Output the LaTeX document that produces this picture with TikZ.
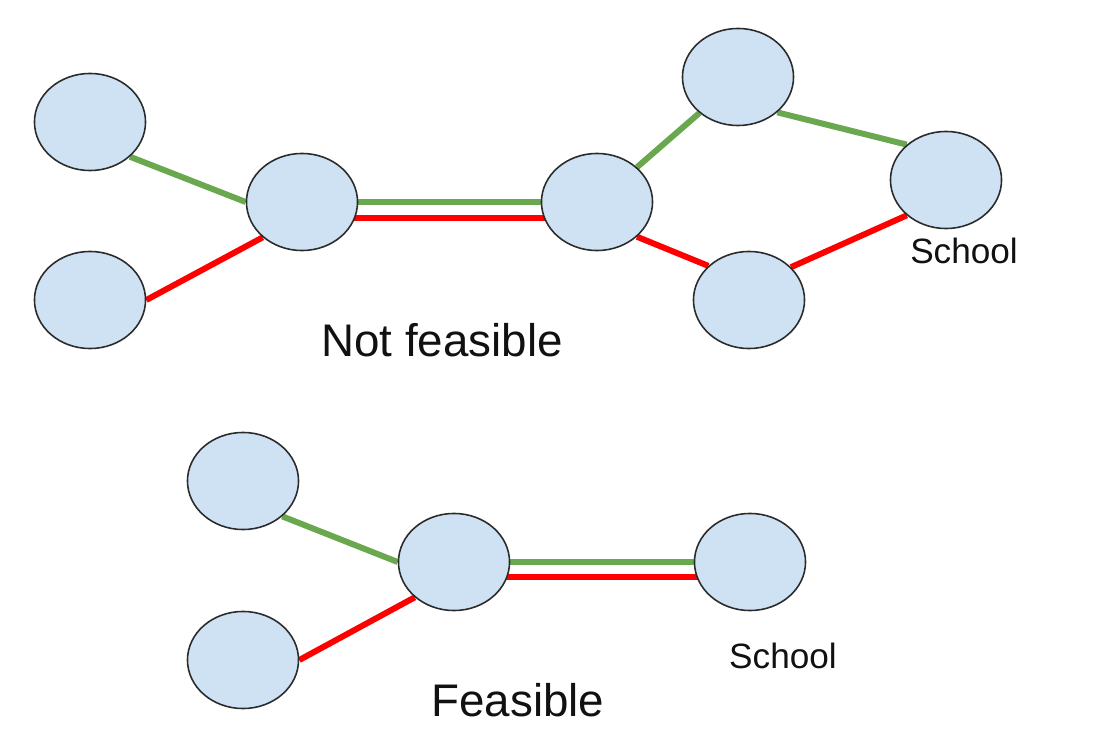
\documentclass[tikz,border=0pt]{standalone}
\usepackage{fontspec}
\setsansfont{Liberation Sans}
\usepackage{tikz}
\usetikzlibrary{calc,backgrounds,shapes.geometric}
\definecolor{StopBlue}{HTML}{CFE2F3}
\definecolor{StopRim}{HTML}{2B2B2B}
\definecolor{LegGreen}{HTML}{6AA84F}
\definecolor{LegRed}{HTML}{FF0000}
\definecolor{RouteInk}{HTML}{111111}
\tikzset{
  figlabel/.style={font=\sffamily\fontsize{10}{12}\selectfont, text=RouteInk},
  figtitle/.style={font=\sffamily\fontsize{13}{15}\selectfont, text=RouteInk},
  stopnode/.style={ellipse, draw=StopRim, fill=StopBlue, line width=0.45pt, minimum width=1.11cm, minimum height=0.97cm, inner sep=0pt},
  greenleg/.style={draw=LegGreen, line width=1.7pt},
  redleg/.style={draw=LegRed, line width=1.7pt}
}

\begin{document}
\begin{tikzpicture}[x=0.01cm, y=-0.01cm]
\useasboundingbox (0,0) rectangle (1100,752);
\foreach \name/\x/\y in {a1/90/122, a2/90/300, hub/302/202, mid/597/202, up/738/77, low/749/300, school/946/180,
                         b1/243/481, b2/243/660, bhub/454/562, bschool/750/562} {
  \node[stopnode] (\name) at (\x,\y) {};
}
\node[figlabel] (schooltext) at (964,251) {School};
\node[figtitle] (nottext) at (442,340) {Not feasible};
\node[figlabel] (bschooltext) at (783,656) {School};
\node[figtitle] (oktext) at (518,700) {Feasible};

\begin{scope}[on background layer]
\fill[white] (0,0) rectangle (1100,752);
\draw[greenleg] (a1.-41) -- (hub.west);
\draw[redleg] (a2.east) -- (hub.222);
\draw[greenleg] (hub) -- (mid);
\draw[redleg] ($(hub)+(0,16)$) -- ($(mid)+(0,16)$);
\draw[greenleg] (mid.41) -- (up.223);
\draw[greenleg] (up.-42) -- (school.138);
\draw[redleg] (mid.-41) -- (low.140);
\draw[redleg] (low.38) -- (school.222);

\draw[greenleg] (b1.-42) -- (bhub.west);
\draw[redleg] (b2.east) -- (bhub.222);
\draw[greenleg] (bhub) -- (bschool);
\draw[redleg] ($(bhub)+(0,15)$) -- ($(bschool)+(0,15)$);
\end{scope}
\end{tikzpicture}
\end{document}
